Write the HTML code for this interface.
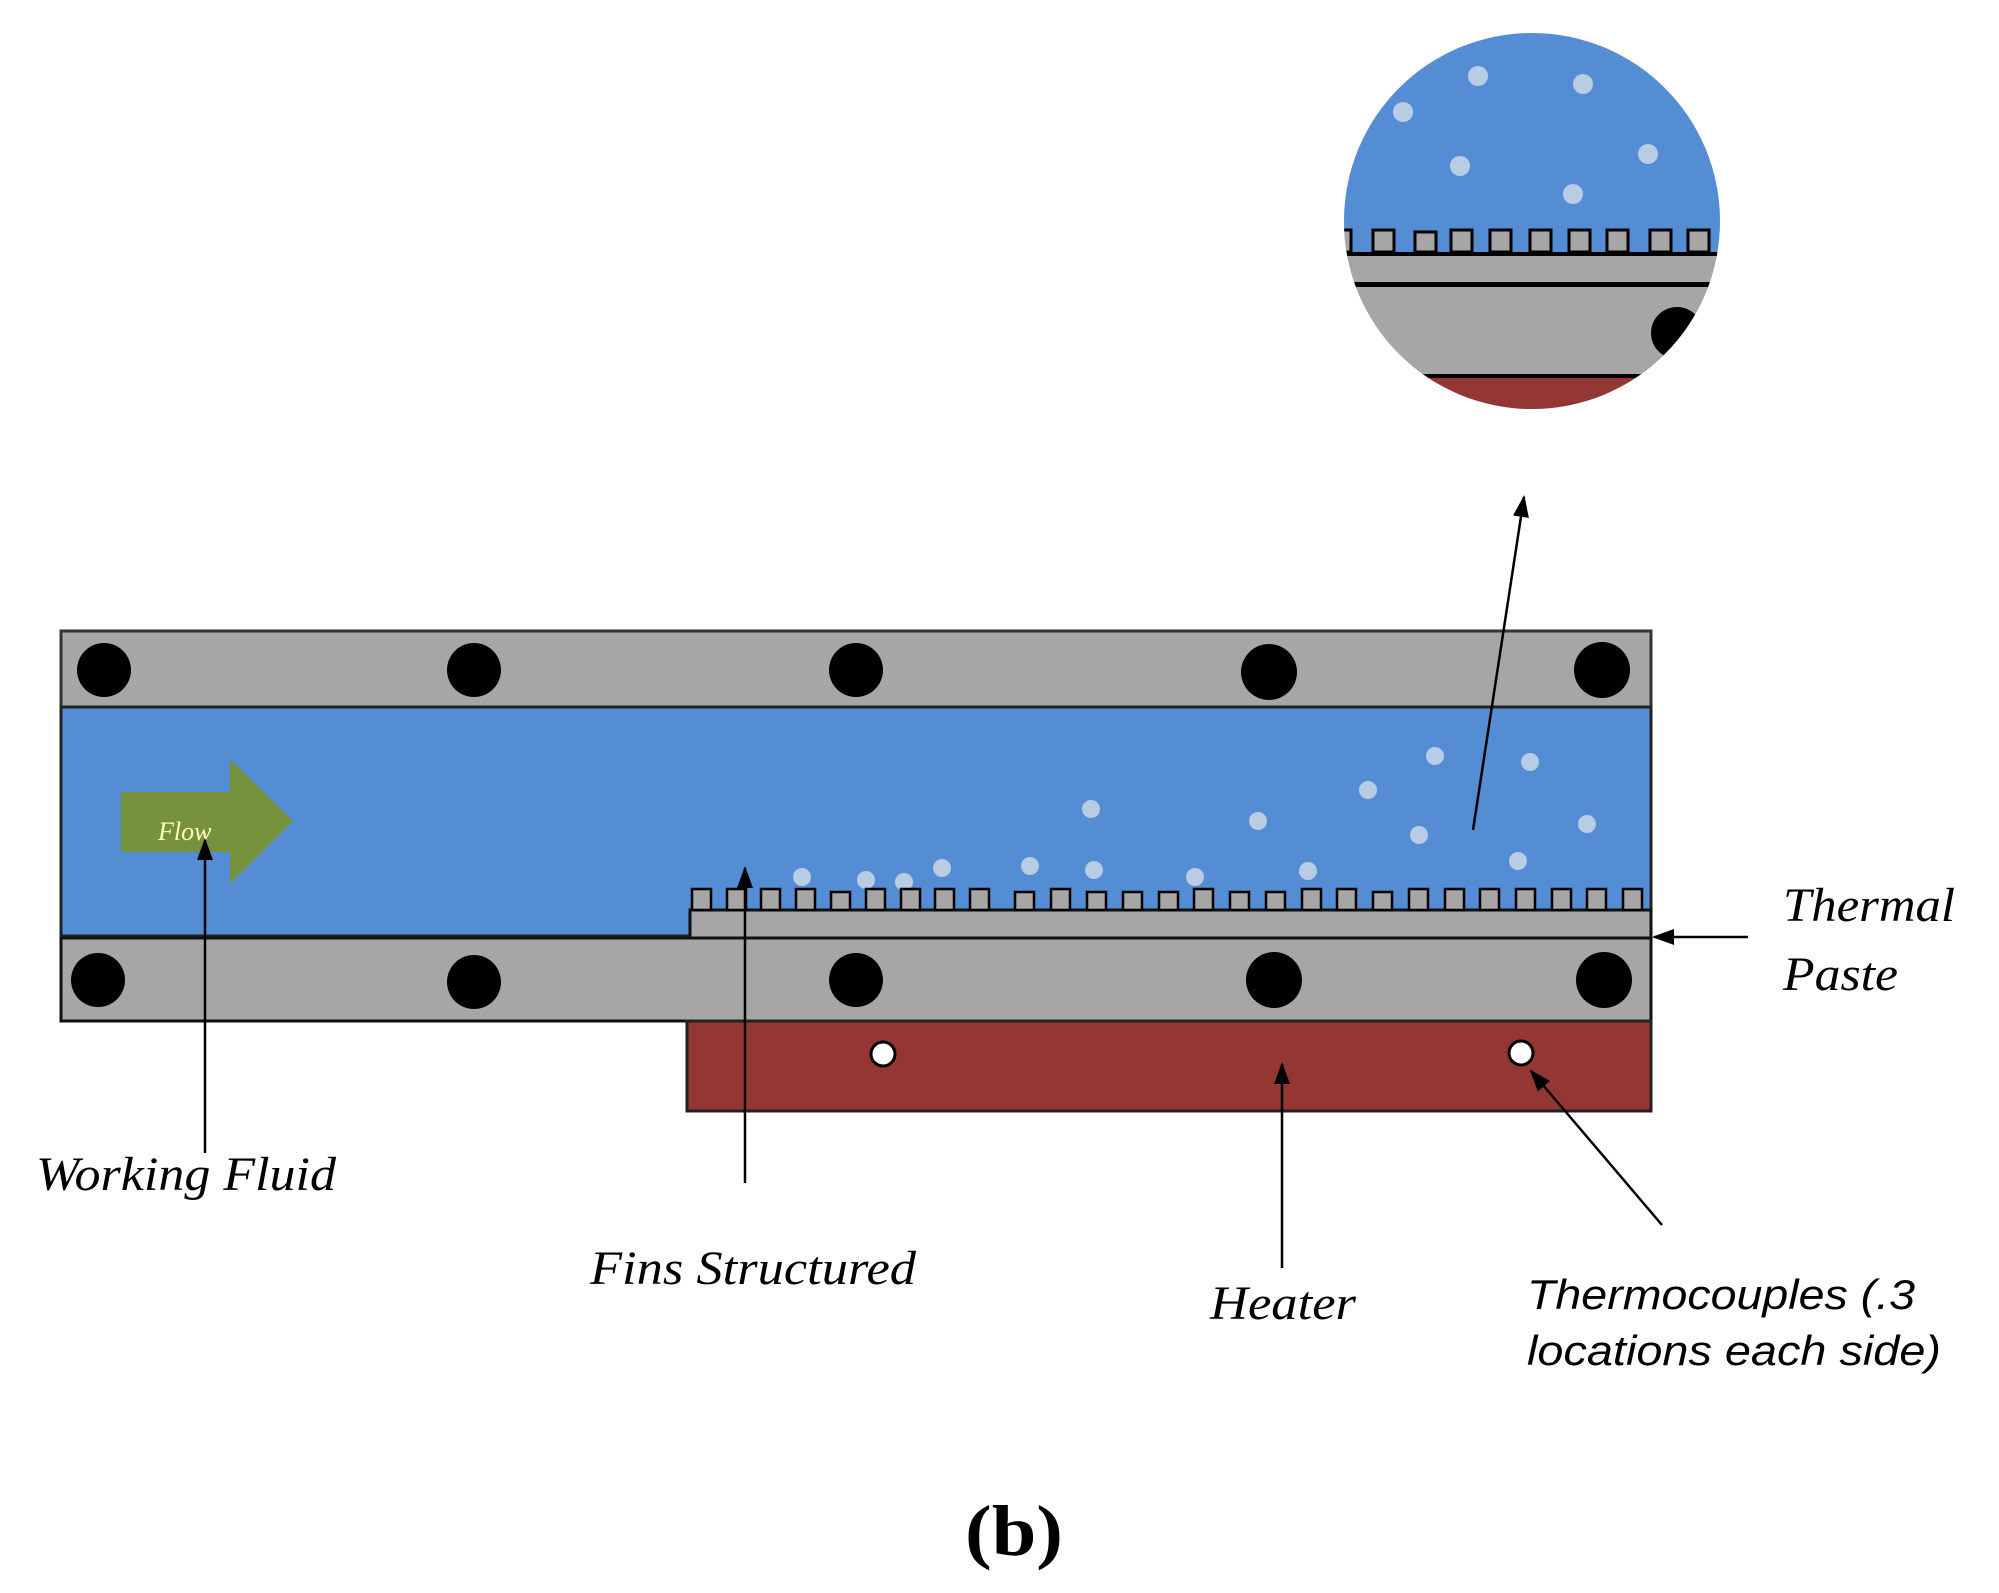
<!DOCTYPE html>
<html><head><meta charset="utf-8"><style>html,body{margin:0;padding:0;background:#fff}svg{display:block}</style></head>
<body>
<svg width="1999" height="1593" viewBox="0 0 1999 1593" xmlns="http://www.w3.org/2000/svg">
<defs>
<marker id="ahb" markerWidth="22" markerHeight="22" refX="20" refY="11" orient="auto" markerUnits="userSpaceOnUse" viewBox="0 0 22 22">
<path d="M0,3 L22,11 L0,19 z" fill="#000"/></marker>
<clipPath id="mag"><circle cx="1532" cy="221" r="188"/></clipPath>
</defs>

<!-- magnifier -->
<g clip-path="url(#mag)">
<rect x="1300" y="20" width="480" height="420" fill="#548dd4"/>
<rect x="1300" y="253" width="480" height="32" fill="#a6a6a6"/>
<rect x="1300" y="252" width="480" height="4" fill="#000"/>
<rect x="1300" y="282" width="480" height="5" fill="#000"/>
<rect x="1300" y="287" width="480" height="89" fill="#a6a6a6"/>
<rect x="1300" y="374" width="480" height="4" fill="#000"/>
<rect x="1300" y="378" width="480" height="60" fill="#943634"/>
<g fill="#a6a6a6" stroke="#000" stroke-width="3">
<rect x="1330" y="230" width="21" height="22"/><rect x="1373" y="230" width="21" height="22"/><rect x="1415" y="232" width="21" height="20"/><rect x="1451" y="230" width="21" height="22"/><rect x="1490" y="230" width="21" height="22"/><rect x="1530" y="230" width="21" height="22"/><rect x="1569" y="230" width="21" height="22"/><rect x="1607" y="230" width="21" height="22"/><rect x="1650" y="230" width="21" height="22"/><rect x="1688" y="230" width="21" height="22"/>
</g>
<circle cx="1677" cy="333" r="26" fill="#000"/>
<g fill="#b8cce4"><circle cx="1403" cy="112" r="10"/><circle cx="1478" cy="76" r="10"/><circle cx="1583" cy="84" r="10"/><circle cx="1460" cy="166" r="10"/><circle cx="1648" cy="154" r="10"/><circle cx="1573" cy="194" r="10"/></g>
</g>

<!-- main body -->
<rect x="61" y="631" width="1590" height="76" fill="#a6a6a6" stroke="#333" stroke-width="3"/>
<rect x="61" y="707" width="1590" height="229" fill="#548dd4" stroke="#222" stroke-width="3"/>
<rect x="61" y="938" width="1590" height="83" fill="#a6a6a6" stroke="#111" stroke-width="3"/>
<rect x="687" y="1021" width="964" height="90" fill="#943634" stroke="#222" stroke-width="3"/>
<rect x="690" y="910" width="961" height="28" fill="#a6a6a6" stroke="#111" stroke-width="3"/>

<!-- bolts -->
<g fill="#000">
<circle cx="104" cy="670" r="27"/><circle cx="474" cy="670" r="27"/><circle cx="856" cy="670" r="27"/><circle cx="1269" cy="672" r="28"/><circle cx="1602" cy="670" r="28"/>
<circle cx="98" cy="980" r="27"/><circle cx="474" cy="982" r="27"/><circle cx="856" cy="980" r="27"/><circle cx="1274" cy="980" r="28"/><circle cx="1604" cy="980" r="28"/>
</g>
<g fill="#fff" stroke="#000" stroke-width="3"><circle cx="883" cy="1054" r="12"/><circle cx="1521" cy="1053" r="12"/></g>

<!-- bubbles -->
<g fill="#b8cce4">
<circle cx="802" cy="877" r="9"/><circle cx="866" cy="880" r="9"/><circle cx="904" cy="882" r="9"/><circle cx="942" cy="868" r="9"/><circle cx="1030" cy="866" r="9"/><circle cx="1091" cy="809" r="9"/><circle cx="1094" cy="870" r="9"/><circle cx="1195" cy="877" r="9"/><circle cx="1258" cy="821" r="9"/><circle cx="1308" cy="871" r="9"/><circle cx="1368" cy="790" r="9"/><circle cx="1419" cy="835" r="9"/><circle cx="1435" cy="756" r="9"/><circle cx="1518" cy="861" r="9"/><circle cx="1530" cy="762" r="9"/><circle cx="1587" cy="824" r="9"/>
</g>

<!-- flow arrow -->
<path d="M121,792 L230,792 L230,759 L293,821 L230,884 L230,852 L121,852 z" fill="#76923c"/>
<text x="158" y="840" font-family="Liberation Serif, serif" font-style="italic" font-size="26" fill="#ffffc0">Flow</text>

<!-- fins -->
<g fill="#a6a6a6" stroke="#000" stroke-width="2.5">
<rect x="692" y="889" width="19" height="21"/><rect x="727" y="889" width="19" height="21"/><rect x="761" y="889" width="19" height="21"/><rect x="796" y="889" width="19" height="21"/><rect x="831" y="892" width="19" height="18"/><rect x="866" y="889" width="19" height="21"/><rect x="901" y="889" width="19" height="21"/><rect x="935" y="889" width="19" height="21"/><rect x="970" y="889" width="19" height="21"/><rect x="1015" y="892" width="19" height="18"/><rect x="1051" y="889" width="19" height="21"/><rect x="1087" y="892" width="19" height="18"/><rect x="1123" y="892" width="19" height="18"/><rect x="1159" y="892" width="19" height="18"/><rect x="1194" y="889" width="19" height="21"/><rect x="1230" y="892" width="19" height="18"/><rect x="1266" y="892" width="19" height="18"/><rect x="1302" y="889" width="19" height="21"/><rect x="1337" y="889" width="19" height="21"/><rect x="1373" y="892" width="19" height="18"/><rect x="1409" y="889" width="19" height="21"/><rect x="1445" y="889" width="19" height="21"/><rect x="1480" y="889" width="19" height="21"/><rect x="1516" y="889" width="19" height="21"/><rect x="1552" y="889" width="19" height="21"/><rect x="1587" y="889" width="19" height="21"/><rect x="1623" y="889" width="19" height="21"/>
</g>

<!-- leader arrows -->
<g stroke="#000" stroke-width="2.5" fill="none">
<line x1="205" y1="1153" x2="205" y2="840" marker-end="url(#ahb)"/>
<line x1="745" y1="1183" x2="745" y2="868" marker-end="url(#ahb)"/>
<line x1="1282" y1="1268" x2="1282" y2="1064" marker-end="url(#ahb)"/>
<line x1="1662" y1="1225" x2="1531" y2="1071" marker-end="url(#ahb)"/>
<line x1="1748" y1="937" x2="1654" y2="937" marker-end="url(#ahb)"/>
<line x1="1473" y1="830" x2="1524" y2="497" marker-end="url(#ahb)"/>
</g>

<!-- labels -->
<g font-family="Liberation Serif, serif" font-style="italic" font-size="48" fill="#000">
<text x="36" y="1190" textLength="300" lengthAdjust="spacingAndGlyphs">Working Fluid</text>
<text x="590" y="1284" textLength="326" lengthAdjust="spacingAndGlyphs">Fins Structured</text>
<text x="1210" y="1319" textLength="146" lengthAdjust="spacingAndGlyphs">Heater</text>
<text x="1783" y="921" textLength="172" lengthAdjust="spacingAndGlyphs">Thermal</text>
<text x="1783" y="990" textLength="115" lengthAdjust="spacingAndGlyphs">Paste</text>
</g>
<g font-family="Liberation Sans, sans-serif" font-style="italic" font-size="42" fill="#000">
<text x="1527" y="1309" textLength="388" lengthAdjust="spacingAndGlyphs">Thermocouples (.3</text>
<text x="1527" y="1365" textLength="414" lengthAdjust="spacingAndGlyphs">locations each side)</text>
</g>
<text x="965" y="1555" font-family="Liberation Serif, serif" font-weight="bold" font-size="72" textLength="98" lengthAdjust="spacingAndGlyphs">(b)</text>
</svg>
</body></html>
